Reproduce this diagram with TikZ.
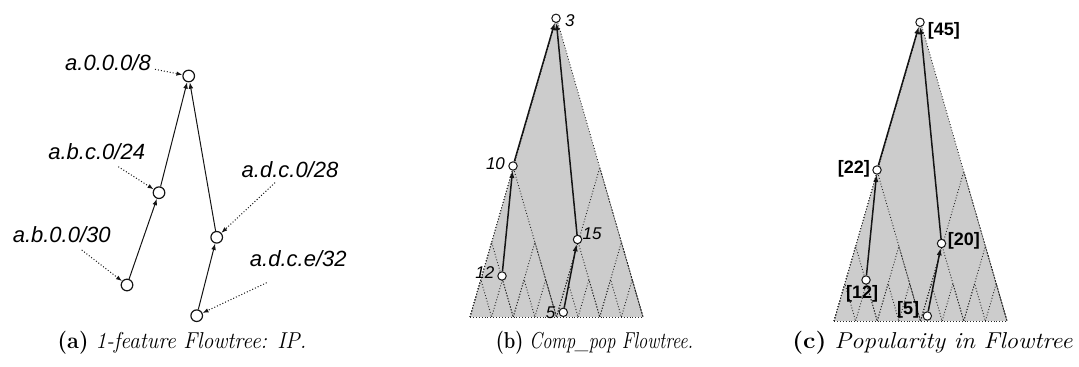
\documentclass[tikz,border=0pt]{standalone}
\usepackage{fontspec}
\usepackage{tikz}
\usetikzlibrary{arrows.meta, positioning, calc}
\newfontfamily\labfont{Liberation Sans}
\definecolor{treegray}{RGB}{204,204,204}
\definecolor{mydark}{RGB}{20,20,20}
\tikzset{
  pnode/.style={circle, draw=mydark, fill=white, inner sep=0pt,
    minimum size=5.8pt, line width=0.6pt},
  tnode/.style={circle, draw=mydark, fill=white, inner sep=0pt,
    minimum size=4.2pt, line width=0.5pt},
  arrow/.style={-{Latex[length=3.2pt,width=2.4pt]}, line width=0.5pt, color=mydark},
  thickarrow/.style={-{Latex[length=3.6pt,width=2.6pt]}, line width=0.75pt, color=mydark},
  dotarrow/.style={-{Latex[length=3pt,width=2.2pt]}, densely dotted, line width=0.5pt, color=mydark},
  treeline/.style={densely dotted, line width=0.45pt, color=black!85},
  plab/.style={font=\labfont\itshape\fontsize{11}{13}\selectfont, inner sep=0pt},
  clab/.style={font=\labfont\itshape\fontsize{8.5}{10}\selectfont, inner sep=0pt},
  blab/.style={font=\labfont\bfseries\fontsize{9}{11}\selectfont, inner sep=0pt},
  capt/.style={font=\fontsize{11.5}{13}\selectfont, inner sep=0pt}
}

\begin{document}
\begin{tikzpicture}[x=0.5pt, y=-0.5pt]
  \useasboundingbox (0,0) rectangle (1079,367);

  % (a) prefixes in the 1-feature tree
  \node[pnode] (n8) at (188.7,76) {};
  \node[pnode] (n24) at (159,192.7) {};
  \node[pnode] (n30) at (127,285) {};
  \node[pnode] (n28) at (216.7,237.3) {};
  \node[pnode] (n32) at (196.7,315.7) {};

  \node[plab] (l8) at (108,63) {a.0.0.0/8};
  \node[plab] (l24) at (96.7,151.7) {a.b.c.0/24};
  \node[plab] (l30) at (61.7,235) {a.b.0.0/30};
  \node[plab] (l28) at (290,170) {a.d.c.0/28};
  \node[plab] (l32) at (298.3,258.3) {a.d.c.e/32};

  \draw[arrow] (n30) -- (n24);
  \draw[arrow] (n24) -- (n8);
  \draw[arrow] (n32) -- (n28);
  \draw[arrow] (n28) -- (n8);

  \draw[dotarrow] ($(l8.center)+(47,6.3)$) -- (n8);
  \draw[dotarrow] ($(l24.center)+(21.6,15)$) -- (n24);
  \draw[dotarrow] ($(l30.center)+(20,15)$) -- (n30);
  \draw[dotarrow] ($(l28.center)+(-15,12.7)$) -- (n28);
  \draw[dotarrow] ($(l32.center)+(-31.6,24.4)$) -- (n32);

  % (b) and (c) subtree triangles
  \foreach \dx/\dy in {0/0, 364/4} {
    \begin{scope}[shift={(\dx,\dy)}]
      \fill[treegray] (470,317) -- (556.5,18) -- (643,317) -- cycle;
      \foreach \n in {1,2,4,8}
        \foreach \j in {1,...,\n}
          \draw[treeline] ({470+173*(\j-1)/\n},317) -- ({470+173*(\j-0.5)/\n},{317-299/\n})
            -- ({470+173*\j/\n},317);
      \draw[treeline] (470,317) -- (643,317);
    \end{scope}
  }

  % (b) Comp_pop values
  \node[tnode] (c3) at (556,18.3) {};
  \node[tnode] (c10) at (513,166) {};
  \node[tnode] (c12) at (502,276) {};
  \node[tnode] (c15) at (577.5,239.5) {};
  \node[tnode] (c5) at (563.3,312.3) {};

  \node[clab, right=2pt of c3, yshift=-1.2pt] (t3) {3};
  \node[clab, left=1.5pt of c10, yshift=1pt] (t10) {10};
  \node[clab, left=1.3pt of c12, yshift=1.6pt] (t12) {12};
  \node[clab, right=0pt of c15, yshift=3pt] (t15) {15};
  \node[clab, left=1.4pt of c5] (t5) {5};

  \draw[thickarrow] (c12) -- (c10);
  \draw[thickarrow] (c10) -- (c3);
  \draw[thickarrow] (c5) -- (c15);
  \draw[thickarrow] (c15) -- (c3);

  % (c) popularity values
  \node[tnode] (p45) at (920,22.3) {};
  \node[tnode] (p22) at (877,170) {};
  \node[tnode] (p12) at (866,280) {};
  \node[tnode] (p20) at (941.5,243.5) {};
  \node[tnode] (p5) at (927.3,316) {};

  \node[blab, right=1.4pt of p45, yshift=-4.5pt] (q45) {[45]};
  \node[blab, left=1pt of p22, yshift=0.6pt] (q22) {[22]};
  \node[blab, below=0pt of p12, xshift=-2pt] (q12) {[12]};
  \node[blab, right=0.6pt of p20, yshift=1.2pt] (q20) {[20]};
  \node[blab, left=1.5pt of p5, yshift=3pt] (q5) {[5]};

  \draw[thickarrow] (p12) -- (p22);
  \draw[thickarrow] (p22) -- (p45);
  \draw[thickarrow] (p5) -- (p20);
  \draw[thickarrow] (p20) -- (p45);

  % captions
  \node[capt] (capa) at (182,343) {\scalebox{0.94}[1]{\textbf{(a)} \textit{1-feature Flowtree: IP.}}};
  \node[capt] (capb) at (594.5,343) {\scalebox{0.8}[1]{\textbf{(b)} \textit{Comp\_pop Flowtree.}}};
  \node[capt] (capc) at (932.5,343) {\scalebox{1.08}[1]{\textbf{(c)} \textit{Popularity in Flowtree}}};
\end{tikzpicture}
\end{document}
